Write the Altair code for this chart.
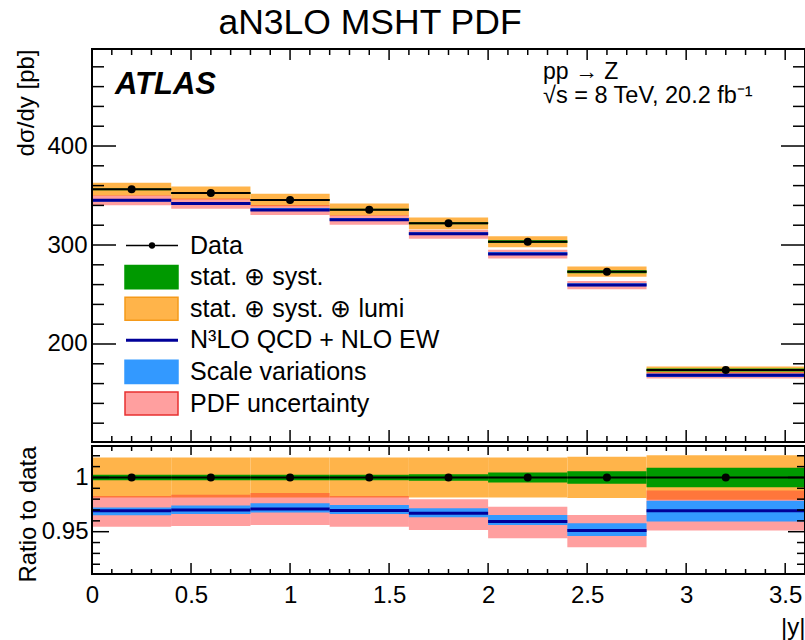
import altair as alt
import pandas as pd

# ---------------------------------------------------------------------------
# Measurement: Z boson rapidity distribution, pp at 8 TeV (ATLAS)
# ---------------------------------------------------------------------------
bin_lo = [0.0, 0.4, 0.8, 1.2, 1.6, 2.0, 2.4, 2.8]
bin_hi = [0.4, 0.8, 1.2, 1.6, 2.0, 2.4, 2.8, 3.6]
xsec = [356.3, 352.5, 345.5, 335.7, 321.9, 303.3, 273.0, 173.7]      # dsigma/dy [pb]
err_stat_syst = [0.25, 0.25, 0.25, 0.25, 0.30, 0.46, 0.57, 0.90]      # [%]
err_total = [1.85, 1.85, 1.85, 1.85, 1.85, 1.85, 1.90, 2.05]          # incl. lumi [%]

# Prediction (aN3LO MSHT PDF) as ratio to data
theory_ratio = [0.9692, 0.9701, 0.9710, 0.9695, 0.9670, 0.9593, 0.9510, 0.9692]
scale_lo = [0.9652, 0.9664, 0.9676, 0.9664, 0.9633, 0.9562, 0.9460, 0.9593]
scale_hi = [0.9722, 0.9741, 0.9763, 0.9747, 0.9717, 0.9655, 0.9578, 0.9785]
pdf_lo = [0.9546, 0.9553, 0.9562, 0.9546, 0.9516, 0.9439, 0.9356, 0.9510]
pdf_hi = [0.9830, 0.9840, 0.9856, 0.9830, 0.9800, 0.9731, 0.9655, 0.9880]

legend_labels = ["Data", "stat. \u2295 syst.", "stat. \u2295 syst. \u2295 lumi",
                 "N\u00b3LO QCD + NLO EW", "Scale variations", "PDF uncertainty"]

# axis ticks / labels
x_major = [0.0, 0.5, 1.0, 1.5, 2.0, 2.5, 3.0, 3.5]
x_minor = [round(0.1 * i, 1) for i in range(1, 36) if i % 5 != 0]
top_y_major = [200, 300, 400]
top_y_minor = [v for v in range(120, 500, 20) if v % 100 != 0]
rat_y_major = [0.95, 1.0]
rat_y_minor = [0.92, 0.93, 0.94, 0.96, 0.97, 0.98, 0.99, 1.01, 1.02]

# ---------------------------------------------------------------------------
FONT = "Liberation Sans"
ORANGE = "#FFB44A"
GREEN = "#009900"
PINK = "#FF2A2A"
BLUE_BAND = "#3399FF"
NAVY = "#000099"

W, H = 713, 525          # full plot area (both panels)
TOP_H = 393              # upper panel height
BOT_TOP = 397            # upper edge of ratio panel

top_dom = [101, 498]
rat_dom = [0.911, 1.029]

x_scale = alt.Scale(domain=[0, 3.6], nice=False, zero=False)
top_scale = alt.Scale(domain=top_dom, range=[TOP_H, 0], nice=False, zero=False)
rat_scale = alt.Scale(domain=rat_dom, range=[H, BOT_TOP], nice=False, zero=False)

df = pd.DataFrame({
    "lo": bin_lo, "hi": bin_hi, "xsec": xsec,
    "es": err_stat_syst, "et": err_total,
    "th": theory_ratio, "slo": scale_lo, "shi": scale_hi,
    "plo": pdf_lo, "phi": pdf_hi,
})
df["mid"] = (df["lo"] + df["hi"]) / 2
# ratio panel quantities
df["r_one"] = 1.0
df["r_tot_lo"] = 1 - df["et"] / 100
df["r_tot_hi"] = 1 + df["et"] / 100
df["r_sys_lo"] = 1 - df["es"] / 100
df["r_sys_hi"] = 1 + df["es"] / 100
# absolute quantities for the upper panel
df["tot_lo"] = df["xsec"] * df["r_tot_lo"]
df["tot_hi"] = df["xsec"] * df["r_tot_hi"]
df["sys_lo"] = df["xsec"] * df["r_sys_lo"]
df["sys_hi"] = df["xsec"] * df["r_sys_hi"]
df["a_th"] = df["xsec"] * df["th"]
df["a_slo"] = df["xsec"] * df["slo"]
df["a_shi"] = df["xsec"] * df["shi"]
df["a_plo"] = df["xsec"] * df["plo"]
df["a_phi"] = df["xsec"] * df["phi"]

# one shared x axis, at the bottom of the whole figure (below the ratio panel);
# every x encoding carries the same definition so the layers merge cleanly
X_AXIS = alt.Axis(orient="bottom", values=x_major, format="~g", ticks=False, tickSize=0,
                  domain=False, grid=False, labelFontSize=24, labelPadding=9,
                  labelFlush=False, labelOverlap=False, labelColor="black",
                  labelFont=FONT, title="|y|", titleFontSize=24,
                  titleFontWeight="normal", titleFont=FONT, titleColor="black",
                  titleAlign="right", titleBaseline="alphabetic", titleX=W, titleY=60)

TOP_Y_AXIS = alt.Axis(orient="left", values=top_y_major, format="d", ticks=False,
                      tickSize=0, domain=False, grid=False, labelFontSize=24,
                      labelPadding=5, labelColor="black", labelFont=FONT,
                      title="d\u03c3/dy [pb]", titleFont=FONT,
                      titleFontSize=24, titleFontWeight="normal", titleColor="black",
                      titleAngle=270, titleAlign="right", titleBaseline="alphabetic",
                      titleX=-59, titleY=0)

RAT_Y_AXIS = alt.Axis(orient="left", values=rat_y_major, format="~g", ticks=False,
                      tickSize=0, domain=False, grid=False, labelFontSize=24,
                      labelPadding=4, labelColor="black", labelFont=FONT,
                      title="Ratio to data", titleFont=FONT,
                      titleFontSize=24, titleFontWeight="normal", titleColor="black",
                      titleAngle=270, titleAlign="right", titleBaseline="alphabetic",
                      titleX=-57, titleY=BOT_TOP)


def X(field):
    return alt.X(field, type="quantitative", scale=x_scale, axis=X_AXIS)


def panel(ys, y_axis, cols, tick_len):
    """Bands, lines, points, frame and ticks for one panel."""
    base = alt.Chart(df)

    def Y(field, axis=None):
        return alt.Y(field, type="quantitative", scale=ys, axis=axis)

    layers = [
        base.mark_rect(color=ORANGE).encode(
            x=X("lo"), x2="hi", y=Y(cols["tot_lo"], y_axis), y2=cols["tot_hi"]),
        base.mark_rect(color=GREEN).encode(
            x=X("lo"), x2="hi", y=Y(cols["sys_lo"]), y2=cols["sys_hi"]),
        base.mark_rect(color=PINK, opacity=0.45).encode(
            x=X("lo"), x2="hi", y=Y(cols["plo"]), y2=cols["phi"]),
        base.mark_rect(color=BLUE_BAND).encode(
            x=X("lo"), x2="hi", y=Y(cols["slo"]), y2=cols["shi"]),
        base.mark_rule(color=NAVY, strokeWidth=3).encode(
            x=X("lo"), x2="hi", y=Y(cols["th"])),
        base.mark_rule(color="black", strokeWidth=2).encode(
            x=X("lo"), x2="hi", y=Y(cols["data"])),
        base.mark_point(filled=True, color="black", size=64, opacity=1).encode(
            x=X("mid"), y=Y(cols["data"])),
    ]

    # frame around the panel, spanning the full scale domains
    frame = alt.Chart(pd.DataFrame({"k": [0]})).mark_rect(
        filled=False, stroke="black", strokeWidth=2).encode(
        x=alt.datum(0.0, scale=x_scale, axis=X_AXIS), x2=alt.datum(3.6),
        y=alt.datum(ys.domain[1], scale=ys, axis=None), y2=alt.datum(ys.domain[0]))
    layers.append(frame)

    # inward pointing ticks on all four sides
    ymaj, ymin, ly_maj, ly_min, top_px, bot_px, lx_top, lx_bot = tick_len
    for vals, ln in ((ymaj, ly_maj), (ymin, ly_min)):
        tdf = pd.DataFrame({"t": vals})
        layers.append(alt.Chart(tdf).mark_rule(color="black", strokeWidth=1.5).encode(
            y=Y("t"), x=alt.value(0), x2=alt.value(ln)))
        layers.append(alt.Chart(tdf).mark_rule(color="black", strokeWidth=1.5).encode(
            y=Y("t"), x=alt.value(W - ln), x2=alt.value(W)))
    for vals, (lt, lb) in ((x_major[1:], (lx_top[0], lx_bot[0])),
                           (x_minor, (lx_top[1], lx_bot[1]))):
        tdf = pd.DataFrame({"t": vals})
        layers.append(alt.Chart(tdf).mark_rule(color="black", strokeWidth=1.5).encode(
            x=X("t"), y=alt.value(top_px), y2=alt.value(top_px + lt)))
        layers.append(alt.Chart(tdf).mark_rule(color="black", strokeWidth=1.5).encode(
            x=X("t"), y=alt.value(bot_px - lb), y2=alt.value(bot_px)))
    return layers


top_cols = dict(tot_lo="tot_lo", tot_hi="tot_hi", sys_lo="sys_lo", sys_hi="sys_hi",
                plo="a_plo", phi="a_phi", slo="a_slo", shi="a_shi", th="a_th",
                data="xsec")
rat_cols = dict(tot_lo="r_tot_lo", tot_hi="r_tot_hi", sys_lo="r_sys_lo",
                sys_hi="r_sys_hi", plo="plo", phi="phi", slo="slo", shi="shi",
                th="th", data="r_one")

top_layers = panel(top_scale, TOP_Y_AXIS, top_cols,
                   (top_y_major, top_y_minor, 24, 12, 0, TOP_H, (11, 6), (12, 6)))
ratio_layers = panel(rat_scale, RAT_Y_AXIS, rat_cols,
                     (rat_y_major, rat_y_minor, 17, 8, BOT_TOP, H, (9, 5), (11, 5)))

# ---------------------------------------------------------------------------
# Legend
# ---------------------------------------------------------------------------
leg = pd.DataFrame({"label": legend_labels, "row": list(range(len(legend_labels)))})
leg["r0"] = leg["row"] - 0.365
leg["r1"] = leg["row"] + 0.365
row_scale = alt.Scale(domain=[0, 5], range=[196.5, 354.5], nice=False, zero=False)


def RY(field):
    return alt.Y(field, type="quantitative", scale=row_scale, axis=None)


legend_layers = [
    alt.Chart(leg).mark_text(align="left", baseline="middle", fontSize=25, font=FONT,
                             color="black").encode(
        x=alt.value(98), y=RY("row"), text="label"),
    alt.Chart(leg.iloc[[0]]).mark_rule(color="black", strokeWidth=1.5).encode(
        x=alt.value(34), x2=alt.value(86), y=RY("row")),
    alt.Chart(leg.iloc[[0]]).mark_point(filled=True, color="black", size=40,
                                        opacity=1).encode(
        x=alt.value(60), y=RY("row")),
    alt.Chart(leg.iloc[[3]]).mark_rule(color=NAVY, strokeWidth=3).encode(
        x=alt.value(34), x2=alt.value(86), y=RY("row")),
]
swatch_style = {1: (GREEN, GREEN, 1), 2: (ORANGE, "#F59A1A", 1),
                4: (BLUE_BAND, BLUE_BAND, 1), 5: (PINK, "#E83030", 0.45)}
for i, (fill, stroke, op) in swatch_style.items():
    legend_layers.append(
        alt.Chart(leg.iloc[[i]]).mark_rect(fill=fill, fillOpacity=op, stroke=stroke,
                                           strokeWidth=1.5).encode(
            x=alt.value(33), x2=alt.value(86), y=RY("r0"), y2="r1"))


# ---------------------------------------------------------------------------
# Labels
# ---------------------------------------------------------------------------
def label(text, x, y, size, align="left", weight="normal", style="normal"):
    return alt.Chart(pd.DataFrame({"t": [text]})).mark_text(
        align=align, baseline="alphabetic", fontSize=size, font=FONT,
        fontWeight=weight, fontStyle=style, color="black").encode(
        x=alt.value(x), y=alt.value(y), text="t")


annotations = [
    label("aN3LO MSHT PDF", 278, -15, 35.5, align="center"),
    label("ATLAS", 23, 45, 31, weight="bold", style="italic"),
    label("pp \u2192 Z", 451, 30, 23),
    label("\u221as = 8 TeV, 20.2 fb\u207b\u00b9", 451, 54, 23.5),
]

chart = alt.layer(*top_layers, *ratio_layers, *legend_layers, *annotations).resolve_scale(
    y="independent"
).properties(
    width=W, height=H,
    autosize=alt.AutoSizeParams(type="none"),
    padding={"left": 92, "top": 49, "right": 0, "bottom": 66},
).configure(font=FONT).configure_view(stroke=None).configure_axis(
    grid=False, labelFont=FONT, titleFont=FONT)

chart.save("out.html", embed_options={"renderer": "svg", "actions": False})
